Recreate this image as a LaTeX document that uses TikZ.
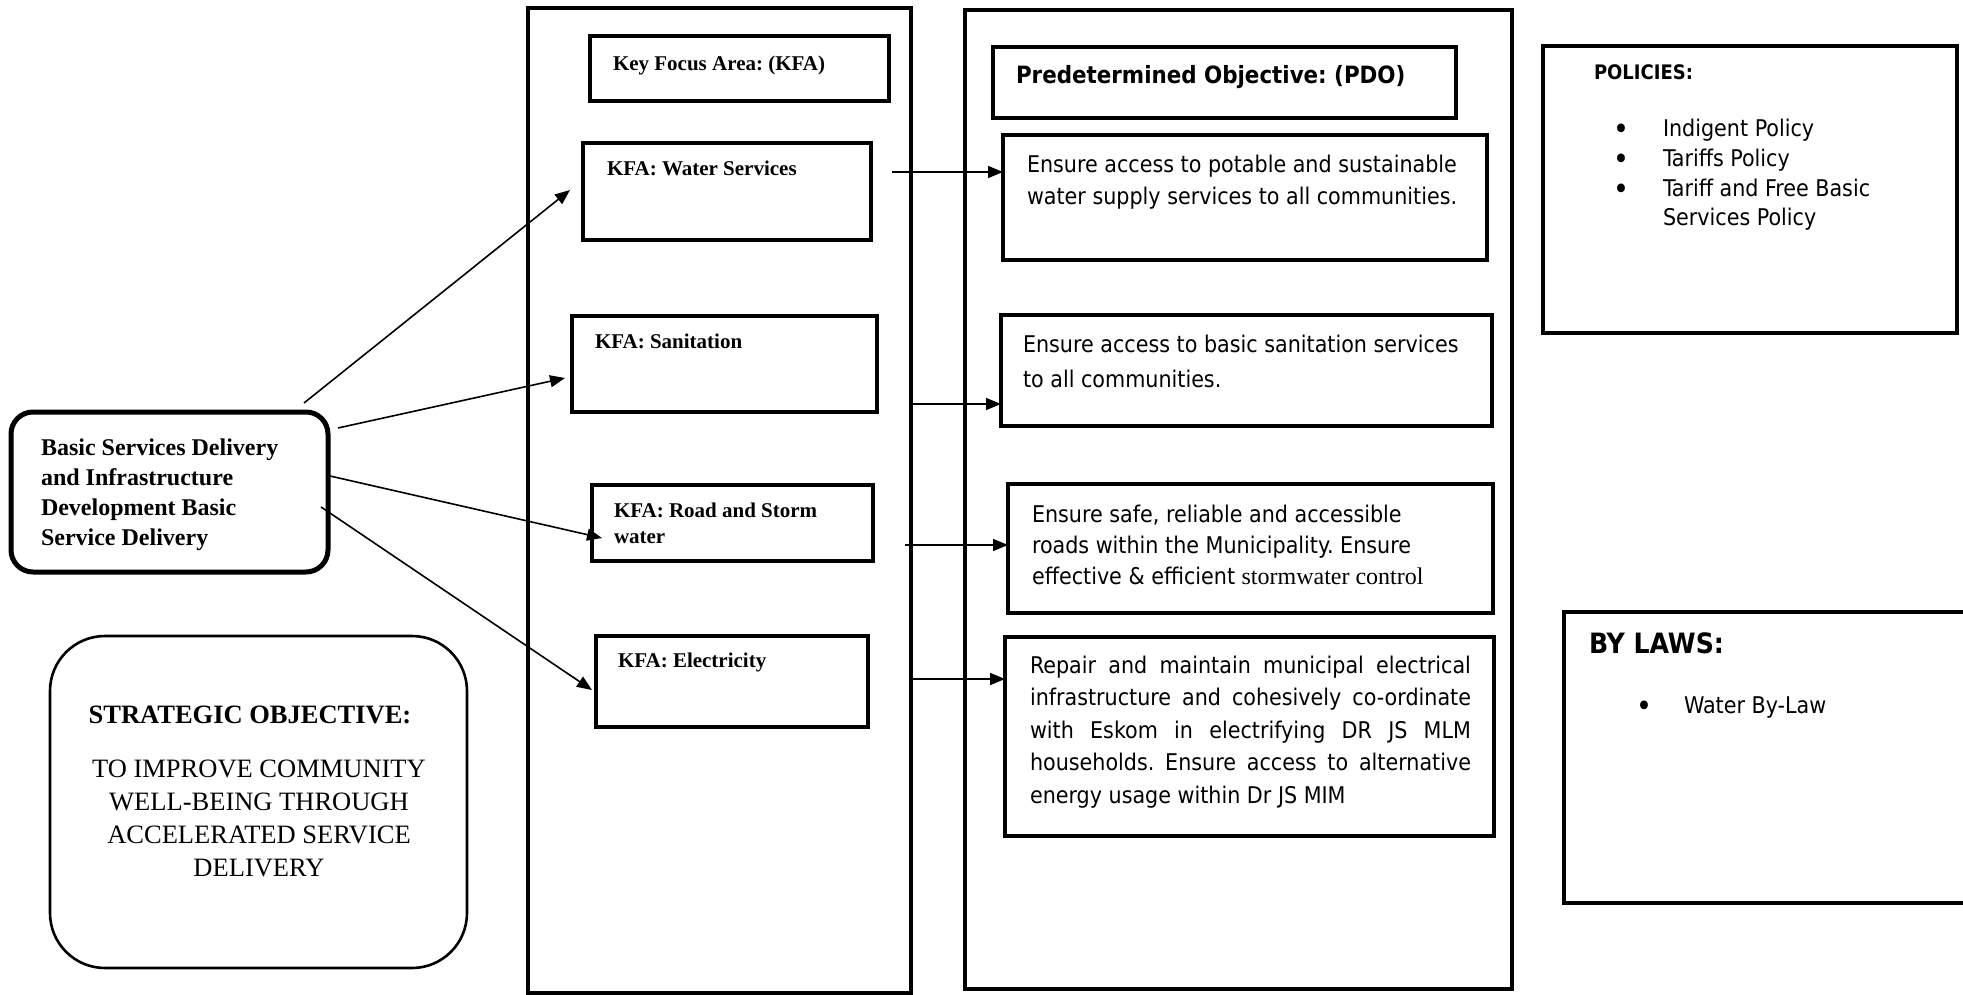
\documentclass[tikz,border=0pt]{standalone}
\usepackage{fontspec}
\setmainfont{Liberation Serif}
\newfontfamily\tahoma{DejaVu Sans Condensed}
\usetikzlibrary{arrows.meta}
\newcommand{\bigbullet}{\raisebox{-3pt}{\fontsize{30}{29}\selectfont\textbullet}}
\begin{document}
\frenchspacing
\begin{tikzpicture}[x=1pt,y=-1pt,
  box/.style={draw, rectangle, outer sep=0pt, inner sep=0pt, anchor=north west, line width=4.3pt},
  colbox/.style={box, line width=4.8pt},
  txt/.style={anchor=base west, inner sep=0pt, outer sep=0pt},
  kfatxt/.style={txt, font=\fontsize{21}{26}\selectfont\bfseries},
  sanstxt/.style={txt, font=\fontsize{23}{32}\selectfont\tahoma},
  arr/.style={-{Triangle[length=15pt,width=12pt]}, line width=1.6pt},
]
\useasboundingbox[fill=white] (0,0) rectangle (1963,995);

% ---- columns ----
\node[colbox, minimum width=383pt, minimum height=985pt] (colK) at (528,8) {};
\node[colbox, minimum width=547pt, minimum height=979pt] (colP) at (965,10) {};

% ---- key focus areas ----
\node[box, minimum width=299pt, minimum height=65pt] (kfahead) at (590,36) {};
\node[box, minimum width=288pt, minimum height=97pt] (kfawater) at (583,143) {};
\node[box, minimum width=305pt, minimum height=96pt] (kfasan) at (572,316) {};
\node[box, minimum width=281pt, minimum height=76pt] (kfaroad) at (592,485) {};
\node[box, minimum width=272pt, minimum height=91pt] (kfaelec) at (596,636) {};

\node[kfatxt] (tkfahead) at (613,71) {Key Focus Area: (KFA)};
\node[kfatxt] (tkfawater) at (607,176) {KFA: Water Services};
\node[kfatxt] (tkfasan) at (595,348) {KFA: Sanitation};
\node[kfatxt] (tkfaroad) at (614,517) {\parbox[t]{250pt}{KFA: Road and Storm\\water}};
\node[kfatxt] (tkfaelec) at (618,667) {KFA: Electricity};

% ---- predetermined objectives ----
\node[box, minimum width=463pt, minimum height=71pt] (pdohead) at (993,47) {};
\node[box, minimum width=484pt, minimum height=125pt] (pdowater) at (1003,135) {};
\node[box, minimum width=491pt, minimum height=111pt] (pdosan) at (1001,315) {};
\node[box, minimum width=485pt, minimum height=129pt] (pdoroad) at (1008,484) {};
\node[box, minimum width=489pt, minimum height=199pt] (pdoelec) at (1005,637) {};

\node[txt, font=\fontsize{23.8}{32}\selectfont\tahoma\bfseries] (tpdohead) at (1016,84) {Predetermined Objective: (PDO)};
\node[sanstxt] (tpdowater) at (1027,173) {\parbox[t]{450pt}{Ensure access to potable and sustainable\\water supply services to all communities.}};
\node[sanstxt] (tpdosan) at (1023,352) {\parbox[t]{460pt}{\fontsize{23}{35}\selectfont Ensure access to basic sanitation services\\to all communities.}};
\node[sanstxt] (tpdoroad) at (1032,522) {\parbox[t]{450pt}{\fontsize{23}{31}\selectfont Ensure safe, reliable and accessible\\roads within the Municipality. Ensure\\effective \& efficient {\fontsize{24}{31}\rmfamily stormwater control}}};
\node[sanstxt] (tpdoelec) at (1030,673) {\parbox[t]{441pt}{\fontsize{23}{32.5}\selectfont
  \makebox[441pt][s]{Repair and maintain municipal electrical}\\
  \makebox[441pt][s]{infrastructure and cohesively co-ordinate}\\
  \makebox[441pt][s]{with Eskom in electrifying DR JS MLM}\\
  \makebox[441pt][s]{households. Ensure access to alternative}\\
  energy usage within Dr JS MIM}};

% ---- policies and by-laws ----
\node[box, minimum width=414pt, minimum height=287pt] (policies) at (1543,46) {};
\node[txt, font=\fontsize{20}{24}\selectfont\tahoma\bfseries] (tpolhead) at (1594,80) {POLICIES:};
\node[sanstxt] (tpollist) at (1613,137) {\parbox[t]{330pt}{\fontsize{23}{29.6}\selectfont
  \makebox[50pt][l]{\bigbullet}Indigent Policy\\
  \makebox[50pt][l]{\bigbullet}Tariffs Policy\\
  \makebox[50pt][l]{\bigbullet}Tariff and Free Basic\\
  \hspace*{50pt}Services Policy}};

\node[box, minimum width=420pt, minimum height=291pt] (bylaws) at (1564,612) {};
\node[txt, font=\fontsize{28}{32}\selectfont\tahoma\bfseries] (tbyhead) at (1589,653) {BY LAWS:};
\node[sanstxt] (tbylist) at (1636,713) {\makebox[48pt][l]{\bigbullet}Water By-Law};

% ---- service delivery and strategic objective ----
\node[box, line width=5pt, rounded corners=22pt, minimum width=317pt, minimum height=160pt] (basic) at (11,412) {};
\node[txt, font=\fontsize{24}{30}\selectfont\bfseries] (tbasic) at (41,455) {\parbox[t]{280pt}{Basic Services Delivery\\and Infrastructure\\Development Basic\\Service Delivery}};

\node[box, line width=2.6pt, rounded corners=55pt, minimum width=417pt, minimum height=332pt] (strat) at (50,636) {};
\node[anchor=base, inner sep=0pt, font=\fontsize{26.5}{33}\selectfont\bfseries] (tstrathead) at (250,723) {STRATEGIC OBJECTIVE:};
\node[anchor=base, inner sep=0pt, font=\fontsize{26.5}{33}\selectfont] (tstrat) at (259,777) {\parbox[t]{400pt}{\centering TO IMPROVE COMMUNITY\\WELL-BEING THROUGH\\ACCELERATED SERVICE\\DELIVERY}};

% ---- connectors ----
\coordinate (s1) at (304,403);
\coordinate (e1) at (570,190);
\coordinate (s2) at (338,428);
\coordinate (e2) at (565,378);
\coordinate (s3) at (330,476);
\coordinate (e3) at (602,538);
\coordinate (s4) at (321,507);
\coordinate (e4) at (592,690);
\draw[arr] (s1) -- (e1);
\draw[arr] (s2) -- (e2);
\draw[arr] (s3) -- (e3);
\draw[arr] (s4) -- (e4);

\coordinate (h1) at (892,172);
\coordinate (h2) at (911,404);
\coordinate (h3) at (905,545);
\coordinate (h4) at (912,679);
\draw[arr] (h1) -- (h1 -| pdowater.west);
\draw[arr] (h2) -- (h2 -| pdosan.west);
\draw[arr] (h3) -- (h3 -| pdoroad.west);
\draw[arr] (h4) -- (h4 -| pdoelec.west);
\end{tikzpicture}
\end{document}
